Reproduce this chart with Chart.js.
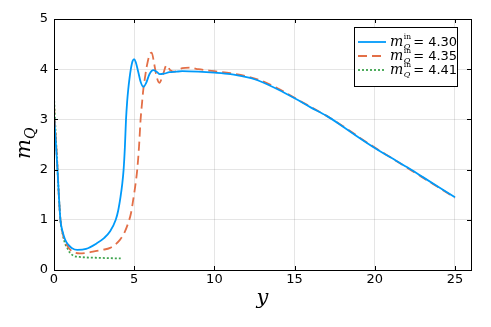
<!DOCTYPE html>
<html>
<head>
<meta charset="utf-8">
<script src="https://cdn.jsdelivr.net/npm/chart.js@4"></script>
<style>
  html, body { margin: 0; padding: 0; background: #fff; }
  #wrap { width: 491px; height: 327px; }
</style>
</head>
<body>
<div id="wrap"><canvas id="MyChart" width="491" height="327"></canvas></div>
<script>
// m_Q^in = 4.30
let blueX = [0, 0.1, 0.2, 0.3, 0.4, 0.55, 0.7, 0.9, 1.1, 1.45, 2.0, 2.66, 3.1, 3.5, 3.85, 4.0, 4.15, 4.25, 4.34, 4.42, 4.49, 4.56, 4.63, 4.71, 4.79, 4.9, 5.0, 5.1, 5.25, 5.4, 5.57, 5.75, 5.95, 6.19, 6.4, 6.6, 6.85, 7.2, 7.6, 8, 9, 10, 11, 12, 12.5, 13, 14, 15, 16, 17, 18, 19, 20, 21, 22, 23, 24, 25];
let blueY = [3.1, 2.6, 2.1, 1.5, 1.0, 0.75, 0.6, 0.5, 0.44, 0.4, 0.42, 0.53, 0.63, 0.77, 1.0, 1.18, 1.46, 1.7, 2.0, 2.45, 3.0, 3.35, 3.6, 3.82, 4.0, 4.16, 4.2, 4.14, 3.95, 3.75, 3.65, 3.73, 3.9, 3.98, 3.95, 3.9, 3.91, 3.94, 3.95, 3.96, 3.95, 3.93, 3.9, 3.84, 3.8, 3.74, 3.59, 3.42, 3.24, 3.07, 2.86, 2.64, 2.43, 2.24, 2.05, 1.85, 1.65, 1.45];
// m_Q^in = 4.35
let redX = [0, 0.1, 0.2, 0.3, 0.4, 0.55, 0.7, 0.9, 1.1, 1.6, 2.0, 2.5, 3.0, 3.5, 4.11, 4.4, 4.63, 4.8, 4.94, 5.07, 5.19, 5.3, 5.4, 5.49, 5.57, 5.68, 5.78, 5.95, 6.09, 6.25, 6.4, 6.57, 6.8, 7.02, 7.25, 7.5, 8, 8.5, 9, 10, 11, 12, 13, 14, 15, 16, 17, 18, 19, 20, 21, 22, 23, 24, 25];
let redY = [3.3, 2.7, 2.15, 1.5, 1.0, 0.72, 0.56, 0.45, 0.38, 0.33, 0.34, 0.37, 0.4, 0.44, 0.6, 0.75, 0.94, 1.13, 1.4, 1.68, 2.0, 2.45, 3.0, 3.33, 3.6, 3.85, 4.05, 4.28, 4.33, 4.1, 3.85, 3.73, 3.9, 4.08, 3.98, 3.95, 4.02, 4.03, 4.0, 3.96, 3.92, 3.86, 3.76, 3.61, 3.43, 3.25, 3.07, 2.87, 2.65, 2.44, 2.24, 2.04, 1.84, 1.64, 1.44];
// m_Q^in = 4.41
let greenX = [0, 0.1, 0.2, 0.3, 0.4, 0.55, 0.7, 0.83, 1.0, 1.25, 1.6, 2.0, 2.5, 3.0, 3.5, 4.16];
let greenY = [3.45, 2.75, 2.15, 1.5, 1.0, 0.7, 0.52, 0.44, 0.34, 0.28, 0.26, 0.25, 0.245, 0.24, 0.235, 0.23];

let seriesLabels = ['4.30', '4.35', '4.41'];
let xTicks = [0, 5, 10, 15, 20, 25];
let yTicks = [0, 1, 2, 3, 4, 5];

function pts(xs, ys) {
  let out = [];
  for (let i = 0; i < xs.length; i++) out.push({ x: xs[i], y: ys[i] });
  return out;
}

let serif = '"DejaVu Serif", "Liberation Serif", serif';
let sans = '"DejaVu Sans", sans-serif';

// frame, inner ticks, axis titles and legend
let decor = {
  id: 'decor',
  afterDraw(chart) {
    let ctx = chart.ctx;
    let a = chart.chartArea;
    let xs = chart.scales.x, ys = chart.scales.y;
    ctx.save();
    ctx.strokeStyle = '#000';
    ctx.lineWidth = 1;
    ctx.strokeRect(Math.round(a.left) + 0.5, Math.round(a.top) + 0.5, Math.round(a.right - a.left), Math.round(a.bottom - a.top));
    ctx.beginPath();
    xTicks.forEach(v => {
      let px = Math.round(xs.getPixelForValue(v)) + 0.5;
      ctx.moveTo(px, a.bottom); ctx.lineTo(px, a.bottom - 4);
      ctx.moveTo(px, a.top); ctx.lineTo(px, a.top + 4);
    });
    yTicks.forEach(v => {
      let py = Math.round(ys.getPixelForValue(v)) + 0.5;
      ctx.moveTo(a.left, py); ctx.lineTo(a.left + 4, py);
      ctx.moveTo(a.right, py); ctx.lineTo(a.right - 4, py);
    });
    ctx.stroke();

    // x title
    ctx.fillStyle = '#000';
    ctx.font = 'italic 21px ' + serif;
    ctx.textAlign = 'center';
    ctx.textBaseline = 'alphabetic';
    ctx.fillText('y', (a.left + a.right) / 2, 304);

    // y title
    ctx.save();
    ctx.translate(30, (a.top + a.bottom) / 2);
    ctx.rotate(-Math.PI / 2);
    ctx.textAlign = 'left';
    ctx.font = 'italic 21px ' + serif;
    let mw = ctx.measureText('m').width;
    let tw = mw + 9;
    ctx.fillText('m', -tw / 2, 0);
    ctx.font = 'italic 14px ' + serif;
    ctx.fillText('Q', -tw / 2 + mw, 5);
    ctx.restore();

    // legend
    let bx = 354, by = 27, bw = 103, bh = 59;
    ctx.fillStyle = '#fff';
    ctx.fillRect(bx, by, bw, bh);
    ctx.strokeStyle = '#000';
    ctx.lineWidth = 1;
    ctx.strokeRect(bx + 0.5, by + 0.5, bw, bh);
    let rows = [42, 56, 70];
    chart.data.datasets.forEach((ds, i) => {
      let ry = rows[i];
      ctx.save();
      ctx.strokeStyle = ds.borderColor;
      ctx.lineWidth = ds.borderWidth;
      ctx.setLineDash(ds.borderDash || []);
      ctx.beginPath();
      ctx.moveTo(358, ry); ctx.lineTo(386, ry);
      ctx.stroke();
      ctx.restore();
      ctx.fillStyle = '#000';
      ctx.textAlign = 'left';
      ctx.textBaseline = 'alphabetic';
      let tx = 390;
      ctx.font = 'italic 14px ' + serif;
      ctx.fillText('m', tx, ry + 4);
      let w = ctx.measureText('m').width;
      ctx.font = '7.5px ' + serif;
      ctx.fillText('in', tx + w + 0.5, ry - 3);
      ctx.font = 'italic 8px ' + serif;
      ctx.fillText('Q', tx + w + 0.5, ry + 7);
      tx += w + 8;
      ctx.font = '13px ' + serif;
      ctx.fillText('=', tx + 2, ry + 4);
      tx += ctx.measureText('=').width + 6;
      ctx.font = '13px ' + sans;
      ctx.fillText(seriesLabels[i], tx, ry + 4);
    });
    ctx.restore();
  }
};

let config = {
  type: 'line',
  data: {
    datasets: [
      {
        label: seriesLabels[0],
        data: pts(blueX, blueY),
        borderColor: '#009AFA',
        borderWidth: 1.8,
        cubicInterpolationMode: 'monotone',
        pointRadius: 0
      },
      {
        label: seriesLabels[1],
        data: pts(redX, redY),
        borderColor: '#E36F47',
        borderWidth: 1.8,
        borderDash: [9, 5],
        cubicInterpolationMode: 'monotone',
        pointRadius: 0
      },
      {
        label: seriesLabels[2],
        data: pts(greenX, greenY),
        borderColor: '#3EA44E',
        borderWidth: 1.8,
        borderDash: [2, 2],
        cubicInterpolationMode: 'monotone',
        pointRadius: 0
      }
    ]
  },
  options: {
    responsive: false,
    animation: false,
    layout: { padding: { left: 0, top: 19, right: 20, bottom: 0 } },
    plugins: { legend: { display: false }, tooltip: { enabled: false } },
    scales: {
      x: {
        type: 'linear',
        min: 0,
        max: 26,
        afterBuildTicks: s => { s.ticks = xTicks.map(v => ({ value: v })); },
        afterFit: s => { s.height = 57; },
        grid: { color: 'rgba(0,0,0,0.1)', drawTicks: false },
        border: { display: false },
        ticks: { color: '#000', font: { family: 'DejaVu Sans', size: 13 }, padding: 2, maxRotation: 0 }
      },
      y: {
        type: 'linear',
        min: 0,
        max: 5,
        afterBuildTicks: s => { s.ticks = yTicks.map(v => ({ value: v })); },
        afterFit: s => { s.width = 54; },
        grid: { color: 'rgba(0,0,0,0.1)', drawTicks: false },
        border: { display: false },
        ticks: { color: '#000', font: { family: 'DejaVu Sans', size: 13 }, padding: 6 }
      }
    }
  },
  plugins: [decor]
};

let myChart = new Chart(document.getElementById('MyChart'), config);
</script>
</body>
</html>
